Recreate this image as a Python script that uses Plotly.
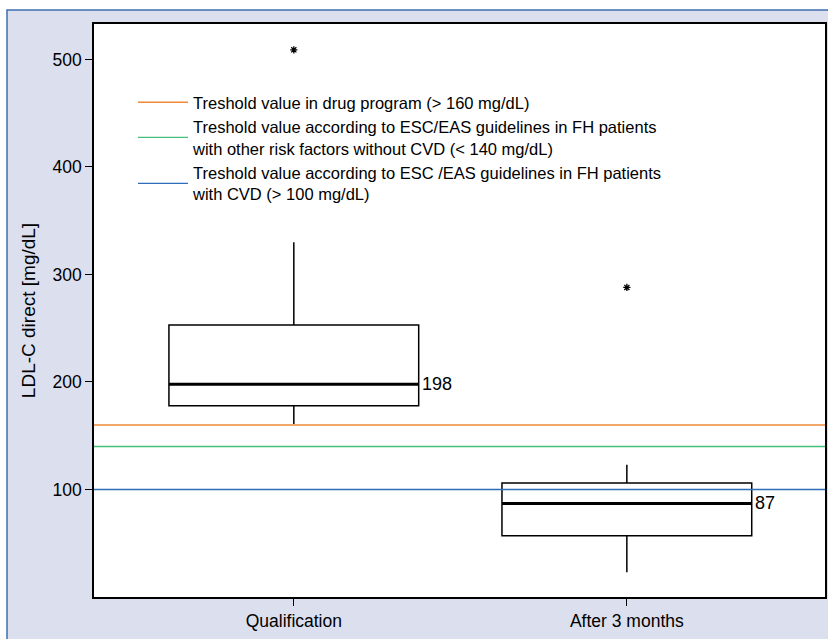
import plotly.graph_objects as go

# ---- data ----
categories = ["Qualification", "After 3 months"]
positions = [0, 1]
q1_vals = [178, 57]
median_vals = [198, 87]
q3_vals = [253, 106]
lower_whisker = [161, 23]
upper_whisker = [330, 123]
outlier_x = [0, 1]
outlier_y = [509, 288]
median_labels = ["198", "87"]

threshold_values = [160, 140, 100]
threshold_names = [
    "Treshold value in drug program (> 160 mg/dL)",
    "Treshold value according to ESC/EAS guidelines in FH patients<br>with other risk factors without CVD (< 140 mg/dL)",
    "Treshold value according to ESC /EAS guidelines in FH patients<br>with CVD (> 100 mg/dL)",
]
threshold_colors = ["#ee8a3a", "#44c07a", "#2f6db8"]

y_ticks = [100, 200, 300, 400, 500]
x_range = [-0.6, 1.595]
y_range = [0, 533]
box_width = 0.75

FONT = "Liberation Sans, Arial, Helvetica, sans-serif"

fig = go.Figure()

for i, pos in enumerate(positions):
    fig.add_trace(go.Box(
        x=[pos], q1=[q1_vals[i]], median=[median_vals[i]], q3=[q3_vals[i]],
        lowerfence=[lower_whisker[i]], upperfence=[upper_whisker[i]],
        width=box_width, whiskerwidth=0, boxpoints=False,
        fillcolor="white", line=dict(color="black", width=1.5),
        showlegend=False, hoverinfo="skip",
    ))
    # thick median line
    fig.add_trace(go.Scatter(
        x=[pos - box_width / 2, pos + box_width / 2],
        y=[median_vals[i], median_vals[i]],
        mode="lines", line=dict(color="black", width=3),
        showlegend=False, hoverinfo="skip",
    ))
    fig.add_annotation(
        x=pos + box_width / 2, y=median_vals[i], text=median_labels[i],
        xanchor="left", yanchor="middle", showarrow=False, xshift=1,
        font=dict(size=18, color="black", family=FONT),
    )

fig.add_trace(go.Scatter(
    x=outlier_x, y=outlier_y, mode="markers",
    marker=dict(symbol="asterisk-open", size=6, color="black",
                line=dict(color="black", width=1.3)),
    showlegend=False, hoverinfo="skip",
))

for v, name, col in zip(threshold_values, threshold_names, threshold_colors):
    fig.add_trace(go.Scatter(
        x=x_range, y=[v, v], mode="lines", name=name,
        line=dict(color=col, width=1.3), hoverinfo="skip",
    ))

W, H = 828, 639
L, R, T, B = 94, 3, 24, 42
pw = W - L - R
ph = H - T - B

def px_x(x):
    return (x - L) / pw

def px_y(y):
    return (H - B - y) / ph

fig.update_layout(
    width=W, height=H,
    margin=dict(l=L, r=R, t=T, b=B),
    paper_bgcolor="white", plot_bgcolor="white",
    font=dict(family=FONT, size=18, color="black"),
    showlegend=True,
    legend=dict(
        x=px_x(133), y=px_y(85), xanchor="left", yanchor="top",
        bgcolor="rgba(0,0,0,0)", font=dict(size=16.5, family=FONT),
        itemwidth=50, tracegroupgap=0,
    ),
    shapes=[
        dict(type="rect", xref="paper", yref="paper", layer="below",
             x0=px_x(7), x1=px_x(850), y0=px_y(660), y1=px_y(10),
             fillcolor="#dcdfee", line=dict(color="#3f6fae", width=1.5)),
        dict(type="rect", xref="paper", yref="paper", layer="below",
             x0=0, x1=1, y0=0, y1=1, fillcolor="white", line=dict(width=0)),
    ],
    xaxis=dict(
        range=x_range, tickvals=positions, ticktext=categories,
        showgrid=False, zeroline=False, showline=True, mirror=True,
        linecolor="black", linewidth=1.5, ticks="outside", ticklen=7,
        tickcolor="black", tickwidth=1.2, automargin=False,
        tickfont=dict(size=17.5, family=FONT),
    ),
    yaxis=dict(
        range=y_range, tickvals=y_ticks,
        showgrid=False, zeroline=False, showline=True, mirror=True,
        linecolor="black", linewidth=1.5, ticks="outside", ticklen=7,
        tickcolor="black", tickwidth=1.2, automargin=False,
        tickfont=dict(size=17.5, family=FONT),
        title=dict(text="LDL-C direct [mg/dL]", font=dict(size=19, family=FONT), standoff=12),
    ),
)

fig.write_html("out.html", config={"displayModeBar": False},
               post_script="document.body.style.margin='0';")
